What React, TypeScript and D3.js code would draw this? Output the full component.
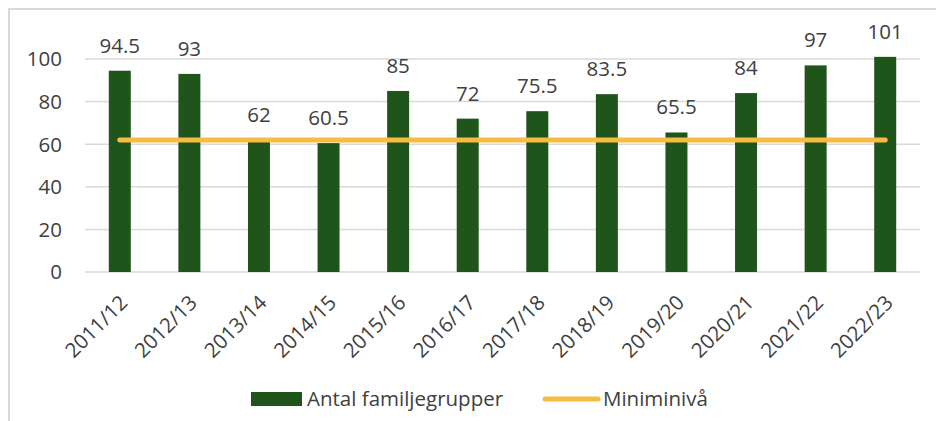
import React from "react";
import * as d3 from "d3";

const categories = ["2011/12","2012/13","2013/14","2014/15","2015/16","2016/17","2017/18","2018/19","2019/20","2020/21","2021/22","2022/23"];
const values = [94.5, 93, 62, 60.5, 85, 72, 75.5, 83.5, 65.5, 84, 97, 101];
const minLevel = [62,62,62,62,62,62,62,62,62,62,62,62];
const yTicks = [0, 20, 40, 60, 80, 100];
const seriesNames = ["Antal familjegrupper", "Miniminivå"];

const W = 936, H = 421;
const left = 85, right = 920, top = 59, bottom = 272;
const FONT = "'Open Sans', 'Noto Sans', sans-serif";
const FS = 20.5;
const GREEN = "#1F541B";
const YELLOW = "#F5BC41";
const TXT = "#404040";

export default function App() {
  const x = d3.scaleBand().domain(categories).range([left, right]).paddingInner(0.684).paddingOuter(0.342);
  const y = d3.scaleLinear().domain([0, 100]).range([bottom, top]);
  const cx = (c: string) => (x(c) as number) + x.bandwidth() / 2;
  const line = d3.line<number>().x((_, i) => cx(categories[i])).y((d) => y(d));
  return (
    <svg width={W} height={H} style={{ position: "absolute", left: 0, top: 0 }} fontFamily={FONT}>
      <rect x={0} y={0} width={W} height={H} fill="#fff" />
      <rect x={9} y={9} width={W + 20} height={H + 20} fill="none" stroke="#d9d9d9" strokeWidth={2} />
      {yTicks.map((t) => (
        <g key={t}>
          <line x1={left} x2={right} y1={y(t)} y2={y(t)} stroke="#d9d9d9" strokeWidth={1.5} />
          <text x={62} y={y(t)} dy="0.36em" textAnchor="end" fontSize={FS} fill={TXT}>{t}</text>
        </g>
      ))}
      {categories.map((c, i) => (
        <g key={c}>
          <rect x={x(c)} y={y(values[i])} width={x.bandwidth()} height={y(0) - y(values[i])} fill={GREEN} />
          <text x={cx(c)} y={y(values[i]) - 18} textAnchor="middle" fontSize={FS} fill={TXT}>{values[i]}</text>
          <text transform={`translate(${cx(c) + 9},${bottom + 32}) rotate(-45)`} textAnchor="end" fontSize={FS} fill={TXT}>{c}</text>
        </g>
      ))}
      <path d={line(minLevel) || ""} fill="none" stroke={YELLOW} strokeWidth={5} strokeLinecap="round" />
      <rect x={251} y={392} width={51} height={14} fill={GREEN} />
      <text x={307} y={399} dy="0.36em" fontSize={FS} fill={TXT}>{seriesNames[0]}</text>
      <line x1={545} x2={598} y1={399} y2={399} stroke={YELLOW} strokeWidth={5} strokeLinecap="round" />
      <text x={603} y={399} dy="0.36em" fontSize={FS} fill={TXT}>{seriesNames[1]}</text>
    </svg>
  );
}
